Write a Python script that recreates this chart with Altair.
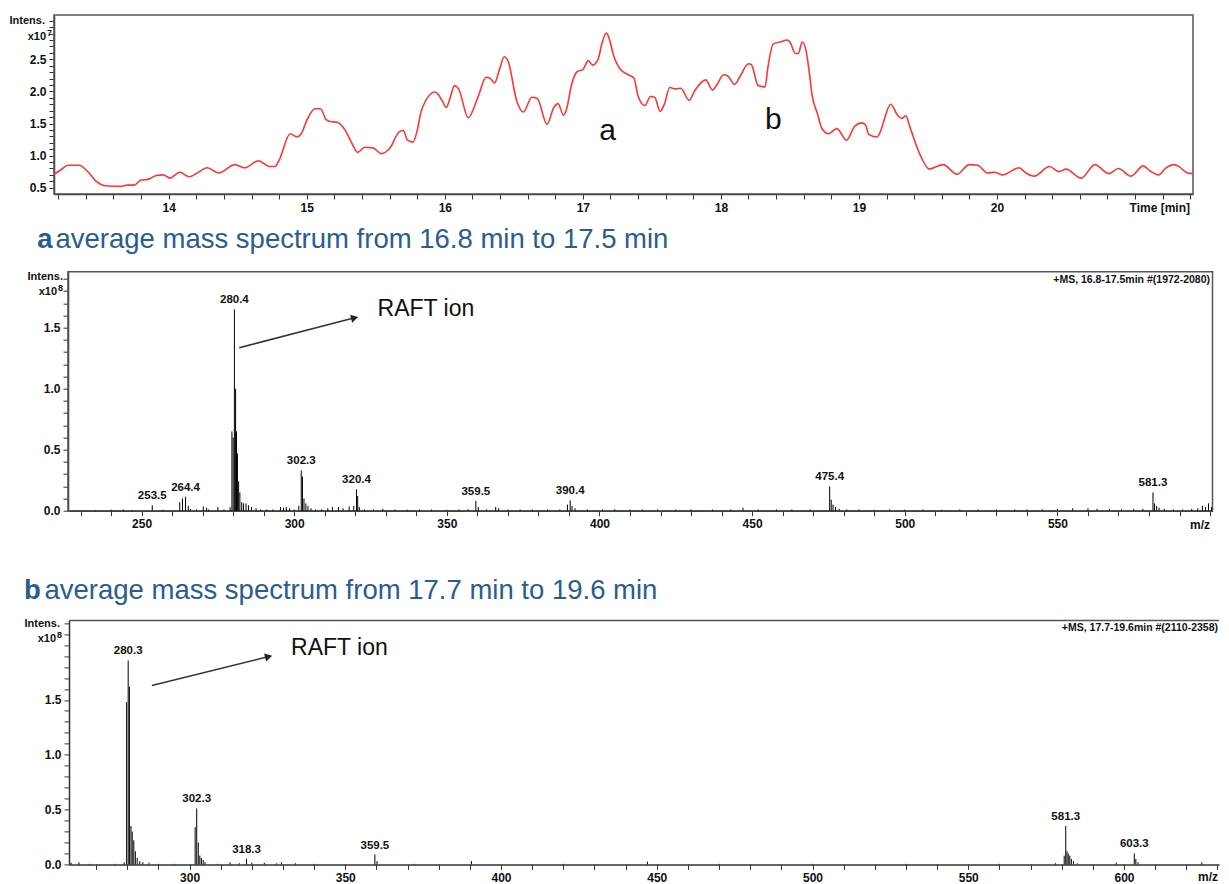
import altair as alt
import pandas as pd

FONT = "Liberation Sans"
BLUE = "#2B5C91"
RED = "#FF3535"
AXC = "#333333"
FRAME = "#555555"

# ---------------- chromatogram (top panel) ----------------
chrom_time = [13.17, 13.22, 13.27, 13.35, 13.41, 13.48, 13.54, 13.65, 13.70, 13.75,
              13.80, 13.85, 13.91, 13.96, 14.01, 14.08, 14.15, 14.20, 14.28, 14.36,
              14.48, 14.55, 14.65, 14.73, 14.77, 14.80, 14.88, 14.93, 14.96, 15.00,
              15.06, 15.10, 15.14, 15.17, 15.22, 15.28, 15.33, 15.37, 15.42, 15.48,
              15.54, 15.60, 15.67, 15.70, 15.73, 15.77, 15.80, 15.83, 15.93, 15.98,
              16.01, 16.04, 16.07, 16.10, 16.17, 16.24, 16.30, 16.33, 16.36, 16.40,
              16.43, 16.46, 16.52, 16.57, 16.63, 16.67, 16.74, 16.79, 16.82, 16.86,
              16.88, 16.92, 16.96, 17.00, 17.04, 17.07, 17.11, 17.14, 17.17, 17.19,
              17.22, 17.27, 17.33, 17.37, 17.40, 17.45, 17.49, 17.52, 17.56, 17.59,
              17.63, 17.67, 17.71, 17.77, 17.81, 17.89, 17.94, 17.97, 18.02, 18.05,
              18.10, 18.14, 18.20, 18.22, 18.27, 18.32, 18.34, 18.38, 18.43, 18.48,
              18.50, 18.54, 18.56, 18.59, 18.62, 18.64, 18.66, 18.70, 18.73, 18.78,
              18.84, 18.91, 18.97, 19.02, 19.05, 19.07, 19.13, 19.16, 19.18, 19.23,
              19.28, 19.31, 19.34, 19.37, 19.45, 19.51, 19.61, 19.71, 19.80, 19.86,
              19.93, 19.98, 20.04, 20.16, 20.21, 20.27, 20.38, 20.45, 20.50, 20.61,
              20.71, 20.81, 20.88, 20.97, 21.06, 21.11, 21.17, 21.22, 21.28, 21.31,
              21.38, 21.42]
chrom_int = [0.71, 0.78, 0.85, 0.85, 0.76, 0.59, 0.53, 0.52, 0.54, 0.54,
             0.62, 0.63, 0.69, 0.70, 0.65, 0.74, 0.67, 0.72, 0.81, 0.73,
             0.86, 0.81, 0.92, 0.83, 0.83, 0.93, 1.34, 1.29, 1.34, 1.55,
             1.73, 1.73, 1.56, 1.53, 1.52, 1.39, 1.18, 1.05, 1.13, 1.12,
             1.03, 1.11, 1.37, 1.39, 1.24, 1.21, 1.39, 1.70, 1.99, 1.86,
             1.75, 1.91, 2.09, 2.04, 1.59, 1.91, 2.22, 2.20, 2.13, 2.37,
             2.54, 2.46, 1.86, 1.68, 1.91, 1.89, 1.49, 1.75, 1.81, 1.63,
             1.71, 2.12, 2.31, 2.34, 2.48, 2.41, 2.50, 2.76, 2.91, 2.83,
             2.58, 2.35, 2.26, 2.21, 1.93, 1.78, 1.92, 1.91, 1.69, 1.80,
             2.06, 2.04, 2.05, 1.86, 2.01, 2.18, 2.02, 2.10, 2.26, 2.24,
             2.11, 2.24, 2.43, 2.42, 2.09, 2.07, 2.37, 2.74, 2.77, 2.80,
             2.77, 2.59, 2.59, 2.77, 2.60, 2.30, 1.95, 1.65, 1.43, 1.34,
             1.42, 1.24, 1.46, 1.51, 1.47, 1.33, 1.29, 1.40, 1.54, 1.80,
             1.63, 1.58, 1.62, 1.44, 0.98, 0.79, 0.86, 0.71, 0.86, 0.85,
             0.73, 0.74, 0.70, 0.81, 0.73, 0.68, 0.83, 0.75, 0.79, 0.65,
             0.86, 0.72, 0.80, 0.68, 0.84, 0.76, 0.70, 0.80, 0.86, 0.84,
             0.73, 0.72]
chrom_marks = ["a", "b"]
chrom_marks_t = [17.18, 18.38]
chrom_marks_v = [1.25, 1.42]

# ---------------- spectrum a ----------------
spec_a_mz = [235, 240, 244, 247, 253.5, 257, 262.5, 263.4, 264.4, 265.3, 266, 268, 270.2,
             271.3, 272, 275, 277, 279.0, 279.6, 280.0, 280.4, 280.8, 281.1, 281.4, 281.8,
             282.2, 282.8, 283.4, 284.2, 285, 286, 287.5, 289, 291, 293, 295.5, 296.5,
             297.4, 298.5, 300, 301.5, 302.3, 302.7, 303.2, 303.8, 304.5, 305.5, 307,
             309, 311, 312.5, 314.5, 316, 318, 319.5, 320.4, 320.8, 321.3, 323, 326,
             329, 333, 337, 341, 345, 350, 354, 357, 359.5, 360.3, 363, 366, 367, 370,
             374, 378, 383, 387, 389.5, 390.4, 391, 392, 396, 401, 405, 410, 414, 419,
             425, 430, 437, 443, 447, 452, 458, 463, 469, 475.4, 475.9, 476.5, 477.3,
             478.5, 481, 485, 490, 495, 500, 506, 512, 518, 524, 530, 536, 540, 545,
             550, 555, 560, 563, 567, 571, 575, 578, 581.3, 581.8, 582.5, 583.3, 585,
             588, 591, 594, 596, 597.5, 598.5, 599.5, 600.5]
spec_a_int = [0.005, 0.008, 0.01, 0.006, 0.045, 0.008, 0.07, 0.10, 0.115, 0.04, 0.015, 0.01, 0.035,
              0.025, 0.01, 0.03, 0.01, 0.03, 0.65, 0.60, 1.65, 1.00, 0.65, 0.47, 0.24,
              0.15, 0.07, 0.06, 0.06, 0.045, 0.03, 0.02, 0.01, 0.01, 0.01, 0.03, 0.025,
              0.03, 0.02, 0.01, 0.04, 0.33, 0.28, 0.10, 0.06, 0.04, 0.02, 0.01,
              0.012, 0.02, 0.03, 0.03, 0.02, 0.035, 0.04, 0.175, 0.12, 0.03, 0.01, 0.01,
              0.015, 0.01, 0.008, 0.01, 0.01, 0.008, 0.01, 0.012, 0.08, 0.03, 0.01, 0.03, 0.02, 0.01,
              0.01, 0.01, 0.01, 0.01, 0.05, 0.085, 0.04, 0.02, 0.01, 0.01, 0.012, 0.01, 0.01, 0.01,
              0.01, 0.01, 0.01, 0.01, 0.025, 0.01, 0.01, 0.01, 0.01, 0.20, 0.09, 0.05, 0.03,
              0.015, 0.01, 0.01, 0.008, 0.01, 0.008, 0.01, 0.008, 0.01, 0.01, 0.01, 0.01, 0.01, 0.012,
              0.015, 0.02, 0.02, 0.015, 0.015, 0.012, 0.015, 0.015, 0.15, 0.06, 0.04, 0.025, 0.015,
              0.01, 0.01, 0.015, 0.02, 0.04, 0.03, 0.06, 0.03]
peaks_a_mz = [253.5, 264.4, 280.4, 302.3, 320.4, 359.5, 390.4, 475.4, 581.3]
peaks_a_int = [0.045, 0.115, 1.65, 0.33, 0.175, 0.08, 0.085, 0.20, 0.15]
peaks_a_label = ["253.5", "264.4", "280.4", "302.3", "320.4", "359.5", "390.4", "475.4", "581.3"]

# ---------------- spectrum b ----------------
spec_b_mz = [262, 264.5, 268, 276, 279.0, 279.8, 280.3, 280.7, 281.2, 281.6, 282.1, 282.6,
             283.2, 284, 285, 287, 290, 295, 301.8, 302.3, 302.8, 303.3, 303.8, 304.4, 305,
             309, 313, 316, 318.3, 320, 324, 328, 329.5, 334, 340, 359.5, 360.2, 372,
             390.5, 420, 447, 470, 500, 530, 560, 578, 580.8, 581.3, 581.7, 582.1, 582.6,
             583.1, 583.8, 585, 597.5, 603.3, 603.8, 604.5, 625]
spec_b_int = [0.015, 0.02, 0.005, 0.005, 0.02, 1.48, 1.86, 1.62, 0.35, 0.30, 0.22, 0.12,
              0.06, 0.03, 0.02, 0.015, 0.005, 0.005, 0.34, 0.51, 0.20, 0.08, 0.06, 0.04, 0.02,
              0.005, 0.02, 0.01, 0.05, 0.015, 0.015, 0.01, 0.02, 0.01, 0.005, 0.09, 0.03, 0.005,
              0.03, 0.005, 0.025, 0.005, 0.005, 0.005, 0.005, 0.01, 0.08, 0.35, 0.12, 0.10, 0.08,
              0.05, 0.03, 0.01, 0.015, 0.10, 0.05, 0.02, 0.02]
peaks_b_mz = [280.3, 302.3, 318.3, 359.5, 581.3, 603.3]
peaks_b_int = [1.86, 0.51, 0.05, 0.09, 0.35, 0.10]
peaks_b_label = ["280.3", "302.3", "318.3", "359.5", "581.3", "603.3"]

# ---------------- layout constants ----------------
P1_W, P1_H = 1139, 179
P1_X = [13.169, 21.42]
P1_Y = [0.402, 3.19]
P2_W, P2_H = 1159, 239
P2_X = [225.9, 600.8]
P2_Y = [0.0, 1.959]
P3_W, P3_H = 1165, 276
P3_X = [261.3, 630.5]
P3_Y = [0.0, 2.225]


def axis_common(**kw):
    base = dict(title=None, grid=False, tickSize=5, tickColor=AXC, tickWidth=1,
                domainColor=AXC, domainWidth=1.5, labelFont=FONT, labelFontSize=12,
                labelFontWeight="bold", labelColor="#111111", labelPadding=3,
                labelOverlap=False, labelFlush=False)
    base.update(kw)
    return alt.Axis(**base)


def txt(text, x, y, size=11, weight="bold", align="right", baseline="middle", color="#111111"):
    return alt.Chart(pd.DataFrame({"s": [text]})).mark_text(
        font=FONT, fontSize=size, fontWeight=weight, align=align, baseline=baseline, color=color
    ).encode(text="s:N", x=alt.value(x), y=alt.value(y))


def exp_label(power, x_right, y):
    # "x10" with a raised exponent digit
    return [txt("x10", x_right - 6, y, size=11),
            txt(power, x_right, y - 4, size=9)]


# ============ panel 1 : chromatogram ============
x1s = alt.Scale(domain=P1_X, nice=False, zero=False)
y1s = alt.Scale(domain=P1_Y, nice=False, zero=False)
x1_ticks = [round(13.2 + 0.2 * i, 1) for i in range(42)]
y1_ticks = [round(0.4 + 0.1 * i, 1) for i in range(28)]
x1a = axis_common(values=x1_ticks, labelExpr="(abs(datum.value - round(datum.value)) < 0.001 && datum.value >= 14 && datum.value <= 20) ? format(datum.value, 'd') : ''")
y1a = axis_common(values=y1_ticks, minExtent=46, maxExtent=46,
                  labelExpr="(abs(datum.value * 2 - round(datum.value * 2)) < 0.001 && datum.value >= 0.45 && datum.value <= 2.55) ? format(datum.value, '.1f') : ''")

frame1 = alt.Chart(pd.DataFrame({"x0": [P1_X[0]], "x1": [P1_X[1]], "y0": [P1_Y[0]], "y1": [P1_Y[1]]})).mark_rect(
    fillOpacity=0, stroke=FRAME, strokeWidth=1.5
).encode(x=alt.X("x0:Q", scale=x1s, axis=x1a), x2="x1", y=alt.Y("y0:Q", scale=y1s, axis=y1a), y2="y1")

chrom_df = pd.DataFrame({"t": chrom_time, "v": chrom_int})
line1 = alt.Chart(chrom_df).mark_line(color=RED, strokeWidth=1.6, interpolate="monotone").encode(
    x=alt.X("t:Q", scale=x1s, axis=x1a), y=alt.Y("v:Q", scale=y1s, axis=y1a))

ab_df = pd.DataFrame({"t": chrom_marks_t, "v": chrom_marks_v, "s": chrom_marks})
ab1 = alt.Chart(ab_df).mark_text(font=FONT, fontSize=30, color="#111111", baseline="alphabetic", align="center").encode(
    x=alt.X("t:Q", scale=x1s, axis=x1a), y=alt.Y("v:Q", scale=y1s, axis=y1a), text="s:N")

panel1 = alt.layer(
    frame1, line1, ab1,
    txt("Intens.", -9, 6),
    *exp_label("7", -2, 22),
    txt("Time [min]", 1136, P1_H + 14, size=12),
).properties(width=P1_W, height=P1_H)


# ============ spectrum panel builder ============
def spectrum_panel(W, H, XD, YD, xrange, yrange, yoff, xt, yt, xlab_max, ylab_max,
                   mz, inten, pmz, pint, plab, arrow, raft, title_letter, title_rest,
                   title_pos, ms_text, ms_pos, intens_pos, x10_pos, mz_pos, draw_full_frame):
    xs = alt.Scale(domain=XD, range=xrange, nice=False, zero=False)
    ys = alt.Scale(domain=YD, range=yrange, nice=False, zero=False)
    xa = axis_common(values=xt, labelExpr=f"(datum.value % 50 === 0 && datum.value <= {xlab_max}) ? format(datum.value, 'd') : ''")
    ya = axis_common(values=yt, offset=yoff,
                     labelExpr=f"(abs(datum.value * 2 - round(datum.value * 2)) < 0.001 && datum.value <= {ylab_max}) ? format(datum.value, '.1f') : ''")
    layers = []
    if draw_full_frame:
        fr = alt.Chart(pd.DataFrame({"x0": [XD[0]], "x1": [XD[1]], "y0": [YD[0]], "y1": [YD[1]]})).mark_rect(
            fillOpacity=0, stroke=FRAME, strokeWidth=1.5
        ).encode(x=alt.X("x0:Q", scale=xs, axis=xa), x2="x1", y=alt.Y("y0:Q", scale=ys, axis=ya), y2="y1")
    else:
        fr = alt.Chart(pd.DataFrame({"x0": [XD[0]], "x1": [XD[1]], "y1": [YD[1]]})).mark_rule(
            stroke=FRAME, strokeWidth=1.5
        ).encode(x=alt.X("x0:Q", scale=xs, axis=xa), x2="x1", y=alt.Y("y1:Q", scale=ys, axis=ya))
    layers.append(fr)

    sdf = pd.DataFrame({"mz": mz, "h": inten, "z": [0.0] * len(mz)})
    sticks = alt.Chart(sdf).mark_rule(color="#000000", strokeWidth=1).encode(
        x=alt.X("mz:Q", scale=xs, axis=xa), y=alt.Y("h:Q", scale=ys, axis=ya), y2="z")
    layers.append(sticks)

    pdf = pd.DataFrame({"mz": pmz, "h": pint, "s": plab})
    plabels = alt.Chart(pdf).mark_text(font=FONT, fontSize=11.5, fontWeight="bold", color="#111111",
                                       baseline="bottom", align="center", dy=-4).encode(
        x=alt.X("mz:Q", scale=xs, axis=xa), y=alt.Y("h:Q", scale=ys, axis=ya), text="s:N")
    layers.append(plabels)

    adf = pd.DataFrame({"x0": [arrow[0]], "y0": [arrow[1]], "x1": [arrow[2]], "y1": [arrow[3]]})
    arr = alt.Chart(adf).mark_rule(color="#333333", strokeWidth=1.5).encode(
        x=alt.X("x0:Q", scale=xs, axis=xa), y=alt.Y("y0:Q", scale=ys, axis=ya), x2="x1", y2="y1")
    head = alt.Chart(adf).mark_point(shape="triangle-right", filled=True, size=70, angle=346,
                                     color="#222222", opacity=1).encode(
        x=alt.X("x1:Q", scale=xs, axis=xa), y=alt.Y("y1:Q", scale=ys, axis=ya))
    layers += [arr, head]

    rdf = pd.DataFrame({"mz": [raft[0]], "h": [raft[1]], "s": ["RAFT ion"]})
    rtxt = alt.Chart(rdf).mark_text(font=FONT, fontSize=23, color="#111111", align="left",
                                    baseline="middle").encode(
        x=alt.X("mz:Q", scale=xs, axis=xa), y=alt.Y("h:Q", scale=ys, axis=ya), text="s:N")
    layers.append(rtxt)

    layers.append(txt(title_letter, title_pos[0], title_pos[2], size=27.5, weight="bold",
                      align="left", baseline="alphabetic", color=BLUE))
    layers.append(txt(title_rest, title_pos[1], title_pos[2], size=27.5, weight="normal",
                      align="left", baseline="alphabetic", color=BLUE))
    layers.append(txt(ms_text, ms_pos[0], ms_pos[1], size=10.5))
    layers.append(txt("Intens.", intens_pos[0], intens_pos[1], size=11))
    layers.extend(exp_label("8", x10_pos[0], x10_pos[1]))
    layers.append(txt("m/z", mz_pos[0], mz_pos[1], size=12))
    return alt.layer(*layers).properties(width=W, height=H)


x2_ticks = [230 + 10 * i for i in range(38)]
y2_ticks = [round(0.1 * i, 1) for i in range(20)]
panel2 = spectrum_panel(
    P2_W, P2_H, P2_X, P2_Y, [14, 1158.5], [P2_H, 0], -14, x2_ticks, y2_ticks, 550, 1.55,
    spec_a_mz, spec_a_int, peaks_a_mz, peaks_a_int, peaks_a_label,
    arrow=[282.0, 1.336, 319.8, 1.581], raft=[327.3, 1.655],
    title_letter="a", title_rest="average mass spectrum from  16.8 min to 17.5 min",
    title_pos=[-16.7, 1.5, -23.4],
    ms_text="+MS, 16.8-17.5min #(1972-2080)", ms_pos=[1156, 8.5],
    intens_pos=[9, 5.5], x10_pos=[9, 20], mz_pos=[1156, P2_H + 14], draw_full_frame=True)

x3_ticks = [270 + 10 * i for i in range(37)]
y3_ticks = [round(0.1 * i, 1) for i in range(23)]
panel3 = spectrum_panel(
    P3_W, P3_H, P3_X, P3_Y, [15, P3_W], [P3_H, 32], -15, x3_ticks, y3_ticks, 600, 1.55,
    spec_b_mz, spec_b_int, peaks_b_mz, peaks_b_int, peaks_b_label,
    arrow=[287.9, 1.632, 325.4, 1.895], raft=[332.6, 1.975],
    title_letter="b", title_rest="average mass spectrum from  17.7 min to 19.6 min",
    title_pos=[-30, -9.5, 10.9],
    ms_text="+MS, 17.7-19.6min #(2110-2358)", ms_pos=[1164, 39.5],
    intens_pos=[6, 35.8], x10_pos=[8, 51], mz_pos=[1164, P3_H + 13], draw_full_frame=False)

chart = alt.vconcat(panel1, panel2, panel3, spacing=77.7, bounds="flush").properties(
    padding={"left": 0, "top": 6, "right": 0, "bottom": 0},
    background="white",
).configure_view(stroke="transparent", strokeWidth=0, strokeOpacity=0)

chart.save("out.html", embed_options={"renderer": "svg", "actions": False})
